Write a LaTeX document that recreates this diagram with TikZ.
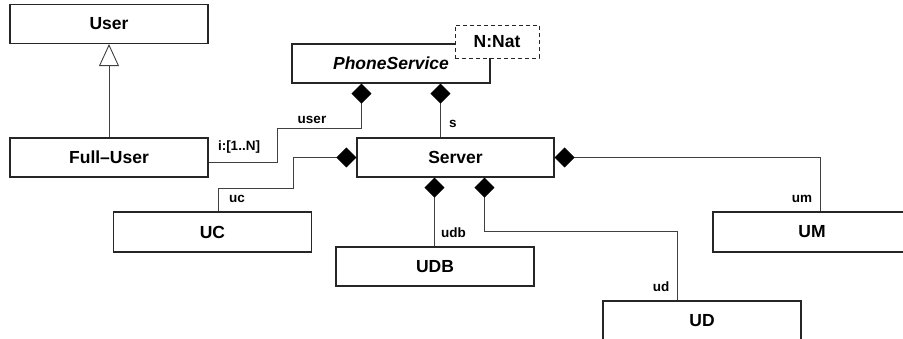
\documentclass[tikz,border=0pt]{standalone}
\usepackage{fontspec}
\setmainfont{Liberation Sans}
\usetikzlibrary{arrows.meta,calc}
\tikzset{
  cls/.style={draw=black!85, line width=1.1pt, fill=white, minimum width=198pt, minimum height=39pt, inner sep=0pt, font=\fontsize{17.5}{20}\selectfont\bfseries},
  param/.style={draw=black!85, dashed, dash pattern=on 4pt off 3pt, line width=0.9pt, fill=white, minimum width=84pt, minimum height=33pt, inner sep=0pt, font=\fontsize{17.5}{20}\selectfont\bfseries},
  comp/.style={draw=black!75, line width=0.9pt, {Diamond[width=20pt,length=20pt,fill=black,black]}-},
  gen/.style={draw=black!75, line width=0.9pt, -{Triangle[open,width=20pt,length=22pt,fill=white]}},
  lbl/.style={inner sep=0pt, font=\fontsize{13.5}{15}\selectfont\bfseries}
}
\begin{document}
\begin{tikzpicture}[x=1pt,y=-1pt]
\useasboundingbox (0,0) rectangle (903,339);
\node[cls] (user) at (109,24) {\raisebox{-4.5pt}{User}};
\node[cls] (fu) at (109,157.5) {Full–User};
\node[cls] (ps) at (391,63.5) {\itshape PhoneService};
\node[param] (nat) at (497,41.5) {\raisebox{-3pt}{N:Nat}};
\node[cls, minimum width=197pt] (srv) at (455.5,157.5) {Server};
\node[cls, minimum height=40pt] (uc) at (212.5,232) {UC};
\node[cls] (udb) at (435,266.5) {UDB};
\node[cls, minimum height=40pt] (ud) at (702,321) {UD};
\node[cls, minimum height=40pt] (um) at (812,232) {UM};

\draw[gen] (fu.north) -- (user.south);
\draw[comp] ($(ps.south west)+(70,0)$) |- (277,128) |- ($(fu.east)+(0,4.5)$);
\draw[comp] ($(ps.south west)+(149,0)$) coordinate (s1) -- (s1 |- srv.north);
\draw[comp] (srv.west) -| (293,188) -| ($(uc.north west)+(105,0)$);
\draw[comp] ($(srv.south west)+(78,0)$) coordinate (s2) -- (s2 |- udb.north);
\draw[comp] ($(srv.south west)+(128,0)$) |- ($(ud.north west)+(75,-69)$) -- ($(ud.north west)+(75,0)$);
\draw[comp] (srv.east) -| ($(um.north west)+(108,0)$);

\node[lbl] (l1) at (239,147) {i:[1..N]};
\node[lbl] (l2) at (312,119.5) {user};
\node[lbl] (l3) at (453,124) {s};
\node[lbl] (l4) at (237,199) {uc};
\node[lbl] (l5) at (453.5,233) {udb};
\node[lbl] (l6) at (661,287) {ud};
\node[lbl] (l7) at (802,199) {um};
\end{tikzpicture}
\end{document}
